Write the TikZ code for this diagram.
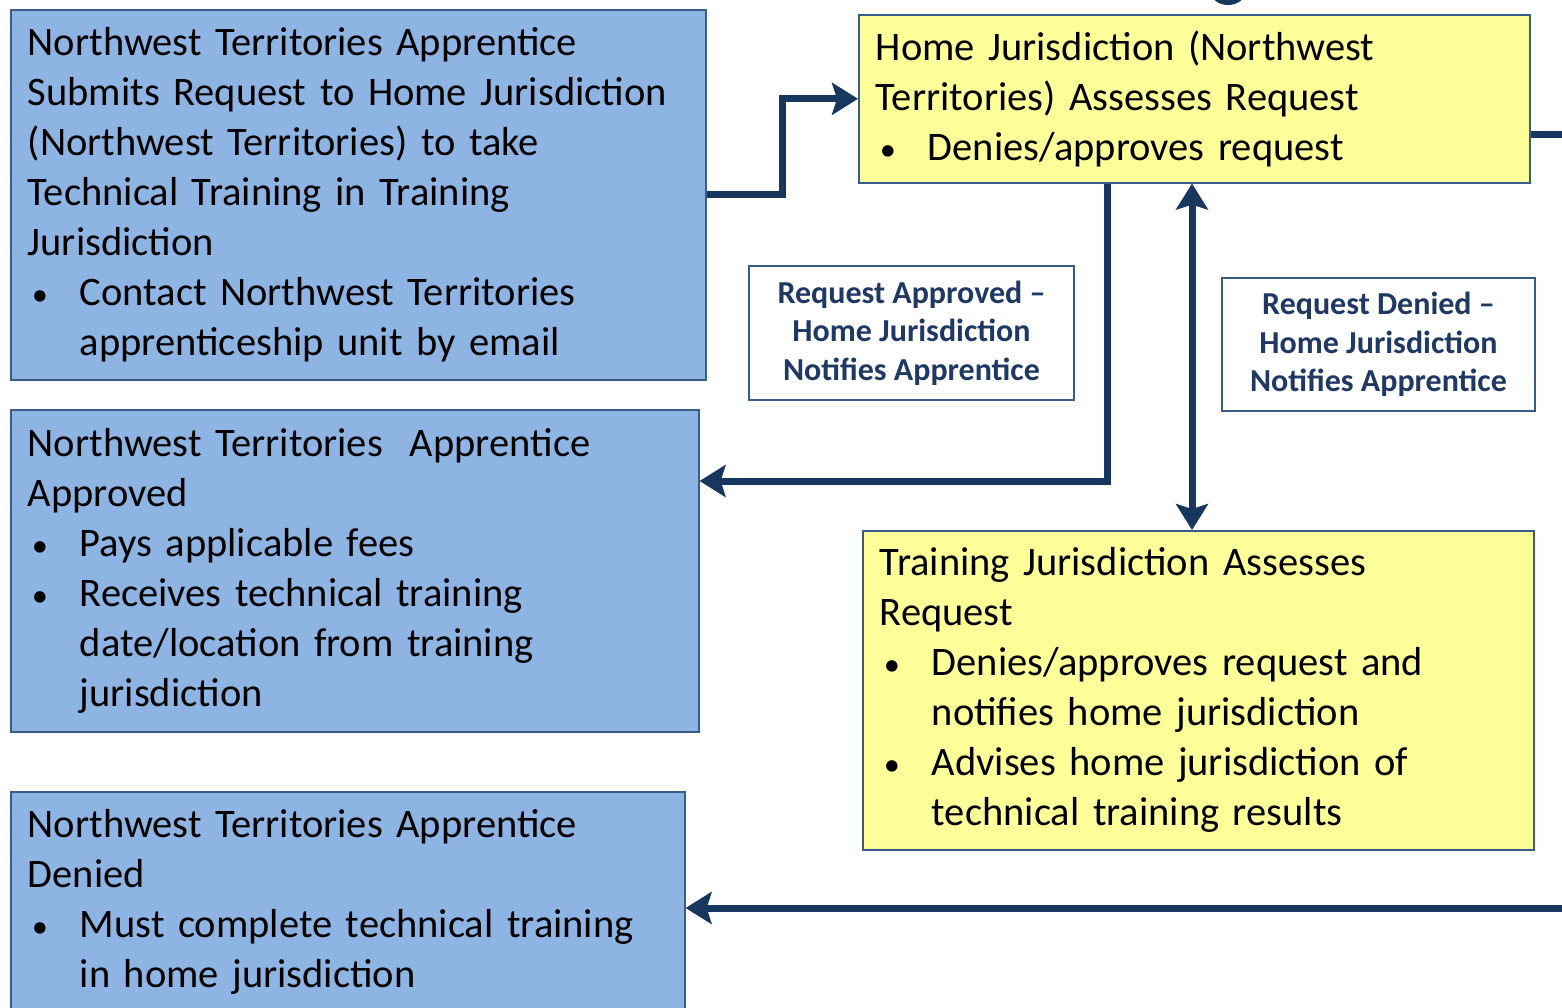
\documentclass[tikz,border=0pt]{standalone}
\usepackage{fontspec}
\setmainfont{Carlito}
\usetikzlibrary{arrows.meta}
\definecolor{boxblue}{HTML}{8EB4E3}
\definecolor{boxyellow}{HTML}{FFFF99}
\definecolor{edgecol}{HTML}{385D8A}
\definecolor{navy}{HTML}{17375E}
\definecolor{labtext}{HTML}{1F3864}
\newcommand\bul[1]{\makebox[52pt][l]{\hspace{4pt}\scalebox{0.8}{\textbullet}}#1}
\newcommand\cont[1]{\hspace*{52pt}#1}
\begin{document}
\begin{tikzpicture}[x=1pt,y=-1pt,
 box/.style={draw=edgecol, line width=1.6pt, anchor=north west, inner xsep=17pt, inner ysep=0pt, align=left, font=\fontsize{40.5}{50}\selectfont, text=black},
 bluebox/.style={box, fill=boxblue},
 yellowbox/.style={box, fill=boxyellow},
 lab/.style={draw=edgecol, line width=1.6pt, fill=white, align=center, font=\bfseries\fontsize{32}{38.5}\selectfont, text=labtext, inner sep=0pt},
 conn/.style={draw=navy, line width=7pt},
 tipstyle/.style={},
 arr/.style={conn, -{Stealth[length=26pt,width=32pt,inset=5pt]}},
 darr/.style={conn, {Stealth[length=26pt,width=32pt,inset=5pt]}-{Stealth[length=26pt,width=32pt,inset=5pt]}},
]
\useasboundingbox (0,0) rectangle (1562,1007);
\clip (0,0) rectangle (1562,1007);

\fill[navy] (1228,-8) ellipse [x radius=17pt, y radius=13pt];

\node[bluebox, minimum width=695pt, minimum height=370pt, text width=661pt] (b1) at (10,9) {%
Northwest Territories Apprentice\\
Submits Request to Home Jurisdiction\\
(Northwest Territories) to take\\
Technical Training in Training\\
Jurisdiction\\
\bul{Contact Northwest Territories}\\
\cont{apprenticeship unit by email}};

\node[bluebox, minimum width=688pt, minimum height=322pt, text width=654pt] (b2) at (10,409) {%
Northwest Territories \ Apprentice\\
Approved\\
\bul{Pays applicable fees}\\
\bul{Receives technical training}\\
\cont{date/location from training}\\
\cont{jurisdiction}};

\node[bluebox, minimum width=674pt, minimum height=221pt, text width=640pt] (b3) at (10,791) {%
Northwest Territories Apprentice\\
Denied\\
\bul{Must complete technical training}\\
\cont{in home jurisdiction}};

\node[yellowbox, minimum width=671pt, minimum height=168pt, text width=637pt] (y1) at (858,14) {%
Home Jurisdiction (Northwest\\
Territories) Assesses Request\\
\bul{Denies/approves request}};

\node[yellowbox, minimum width=671pt, minimum height=319pt, text width=637pt] (y2) at (862,530) {%
Training Jurisdiction Assesses\\
Request\\
\bul{Denies/approves request and}\\
\cont{notifies home jurisdiction}\\
\bul{Advises home jurisdiction of}\\
\cont{technical training results}};

\node[lab, minimum width=325pt, minimum height=134pt] (l1) at (911.5,333) {Request Approved --\\Home Jurisdiction\\Notifies Apprentice};
\node[lab, minimum width=313pt, minimum height=133pt] (l2) at (1378.5,344.5) {Request Denied --\\Home Jurisdiction\\Notifies Apprentice};

\coordinate (j1) at (1107,481);
\coordinate (j2) at (1192,300);
\coordinate (r1) at (1570,134);
\coordinate (r2) at (1570,908);

\draw[arr] (b1.east) -- ++(76,0) |- (y1.west);
\draw[arr] (y1.south -| j1) -- (j1) -- (b2.east |- j1);
\draw[darr] (y1.south -| j2) -- (y2.north -| j2);
\draw[conn] (y1.east |- r1) -- (r1);
\draw[arr] (r2) -- (b3.east |- r2);
\end{tikzpicture}
\end{document}
